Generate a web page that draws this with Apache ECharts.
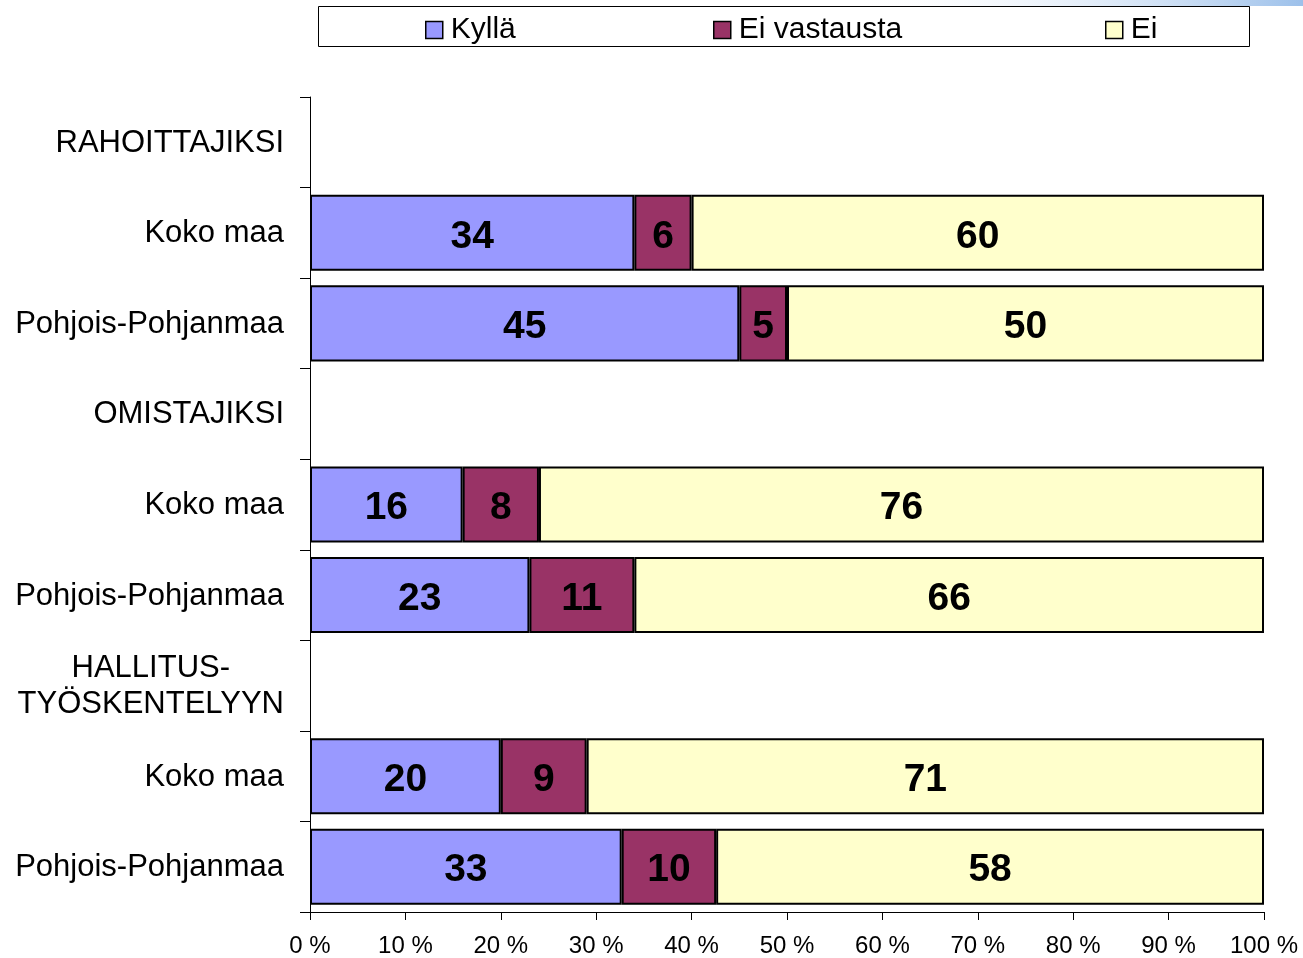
<!DOCTYPE html>
<html>
<head>
<meta charset="utf-8">
<script src="https://cdn.jsdelivr.net/npm/echarts@6/dist/echarts.min.js"></script>
<style>
  html, body { margin: 0; padding: 0; background: #fff; }
  #chart { width: 1303px; height: 958px; }
</style>
</head>
<body>
<div id="chart"></div>
<script>
// rivit ylhäältä alas, otsikkorivit tyhjinä
var categories = ['RAHOITTAJIKSI', 'Koko maa', 'Pohjois-Pohjanmaa',
  'OMISTAJIKSI', 'Koko maa', 'Pohjois-Pohjanmaa',
  'HALLITUS-\nTYÖSKENTELYYN', 'Koko maa', 'Pohjois-Pohjanmaa'];
var kylla = [null, 34, 45, null, 16, 23, null, 20, 33];
var eiVastausta = [null, 6, 5, null, 8, 11, null, 9, 10];
var ei = [null, 60, 50, null, 76, 66, null, 71, 58];
var xTicks = [0, 10, 20, 30, 40, 50, 60, 70, 80, 90, 100];

var seriesNames = ['Kyllä', 'Ei vastausta', 'Ei'];
var colors = ['#9999FF', '#993366', '#FFFFCC'];
var raw = [kylla, eiVastausta, ei];
var FONT = 'Liberation Sans, Arial, sans-serif';

// 100 % pinottu: osuus rivin summasta
function share(arr, i) {
  if (arr[i] == null) return null;
  var sum = kylla[i] + eiVastausta[i] + ei[i];
  return arr[i] / sum * 100;
}

var series = raw.map(function (arr, s) {
  return {
    name: seriesNames[s],
    type: 'bar',
    stack: 'total',
    barWidth: '84%',
    data: arr.map(function (v, i) { return share(arr, i); }),
    itemStyle: { color: colors[s], borderColor: '#000', borderWidth: 2 },
    label: {
      show: true,
      position: 'inside',
      offset: [0, 4],
      color: '#000',
      fontFamily: FONT,
      fontWeight: 'bold',
      fontSize: 39,
      formatter: function (p) { return arr[p.dataIndex]; }
    },
    emphasis: { disabled: true },
    animation: false
  };
});

// kolme legendaa, jotta kohdat osuvat kuvaan
var legendLeft = [420, 708, 1100];
var legends = seriesNames.map(function (n, i) {
  return {
    left: legendLeft[i],
    top: 10,
    itemWidth: 17,
    itemHeight: 17,
    icon: 'rect',
    selectedMode: false,
    z: 10,
    itemStyle: { borderColor: '#000', borderWidth: 1.5 },
    textStyle: { fontFamily: FONT, fontSize: 30, color: '#000', padding: [0, 0, 0, 3] },
    data: [n]
  };
});

var chart = echarts.init(document.getElementById('chart'));
chart.setOption({
  backgroundColor: '#fff',
  animation: false,
  grid: { left: 310, right: 39, top: 97, bottom: 46 },
  graphic: [
    {
      type: 'rect',
      shape: { x: 850, y: 0, width: 453, height: 6 },
      style: {
        fill: new echarts.graphic.LinearGradient(0, 0, 1, 0, [
          { offset: 0, color: 'rgba(255,255,255,0)' },
          { offset: 1, color: '#9cc0ea' }
        ])
      },
      silent: true
    },
    {
      type: 'rect',
      shape: { x: 318.5, y: 6.5, width: 931, height: 40 },
      style: { fill: '#fff', stroke: '#000', lineWidth: 1 },
      silent: true,
      z: 0
    }
  ],
  legend: legends,
  xAxis: {
    type: 'value',
    min: 0,
    max: 100,
    interval: 10,
    splitLine: { show: false },
    axisLine: { show: true, lineStyle: { color: '#000', width: 1 } },
    axisTick: { show: true, length: 8, lineStyle: { color: '#000' } },
    axisLabel: {
      margin: 22,
      fontFamily: FONT,
      fontSize: 24,
      color: '#000',
      formatter: function (v) { return xTicks.indexOf(v) >= 0 ? v + ' %' : ''; }
    }
  },
  yAxis: {
    type: 'category',
    inverse: true,
    data: categories,
    axisLine: { show: true, lineStyle: { color: '#000', width: 1 } },
    axisTick: { show: true, length: 10, lineStyle: { color: '#000' } },
    axisLabel: {
      margin: 26,
      fontFamily: FONT,
      fontSize: 31,
      color: '#000',
      lineHeight: 36,
      formatter: function (v) {
        return v.split('\n').map(function (l) { return '{c|' + l + '}'; }).join('\n');
      },
      rich: {
        c: { align: 'center', fontFamily: FONT, fontSize: 31, color: '#000', lineHeight: 36, padding: [2, 0, 0, 0] }
      }
    }
  },
  series: series
});
</script>
</body>
</html>
